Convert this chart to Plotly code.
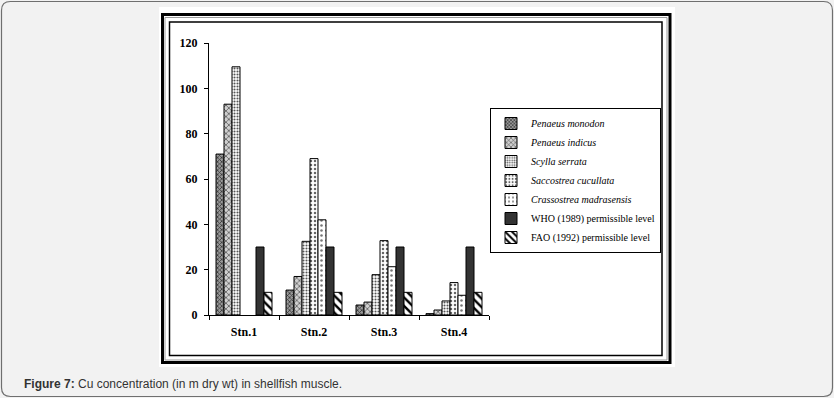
import plotly.graph_objects as go

stations = ["Stn.1", "Stn.2", "Stn.3", "Stn.4"]
penaeus_monodon = [71, 11, 4.4, 0.6]
penaeus_indicus = [93, 17, 5.7, 2.2]
scylla_serrata = [109.5, 32.5, 17.8, 6.2]
saccostrea_cucullata = [None, 69, 32.8, 14.3]
crassostrea_madrasensis = [None, 42, 21.3, 8.7]
who_limit = [30, 30, 30, 30]
fao_limit = [10, 10, 10, 10]
y_ticks = [0, 20, 40, 60, 80, 100, 120]

W, H = 834, 398
L, R, T, B = 209, 489, 43, 315


def px(x):
    return (x - L) / (R - L)


def py(y):
    return (B - y) / (B - T)


series = [
    ("<i>Penaeus monodon</i>", penaeus_monodon, "#9a9a9a", "#333333", "x", 3, 0.45),
    ("<i>Penaeus indicus</i>", penaeus_indicus, "#d0d0d0", "#555555", "x", 4, 0.35),
    ("<i>Scylla serrata</i>", scylla_serrata, "#ffffff", "#555555", ".", 3, 0.4),
    ("<i>Saccostrea cucullata</i>", saccostrea_cucullata, "#ffffff", "#666666", ".", 4, 0.3),
    ("<i>Crassostrea madrasensis</i>", crassostrea_madrasensis, "#ffffff", "#777777", ".", 5, 0.2),
    ("WHO (1989) permissible level", who_limit, "#333333", None, "", 0, 0),
    ("FAO (1992) permissible level", fao_limit, "#ffffff", "#000000", "\\", 6, 0.4),
]

fig = go.Figure()
for name, vals, bg, fg, shape, size, sol in series:
    marker = dict(color=bg, line=dict(color="#000000", width=1))
    if shape:
        marker["pattern"] = dict(shape=shape, fgcolor=fg, bgcolor=bg, size=size,
                                 solidity=sol, fillmode="replace")
    fig.add_trace(go.Bar(x=stations, y=vals, name=name, marker=marker))

shapes = []
# outer rounded frame
x0, x1, y0, y1, r = 1.5, 832.5, 1.5, 396.5, 9
path = (f"M {px(x0 + r)},{py(y0)} L {px(x1 - r)},{py(y0)} "
        f"Q {px(x1)},{py(y0)} {px(x1)},{py(y0 + r)} L {px(x1)},{py(y1 - r)} "
        f"Q {px(x1)},{py(y1)} {px(x1 - r)},{py(y1)} L {px(x0 + r)},{py(y1)} "
        f"Q {px(x0)},{py(y1)} {px(x0)},{py(y1 - r)} L {px(x0)},{py(y0 + r)} "
        f"Q {px(x0)},{py(y0)} {px(x0 + r)},{py(y0)} Z")
shapes.append(dict(type="path", path=path, xref="paper", yref="paper",
                   line=dict(color="#6f6f6f", width=1.2), fillcolor="#f2f2f2", layer="below"))
# white image area
shapes.append(dict(type="rect", xref="paper", yref="paper", x0=px(159), x1=px(675),
                   y0=py(367), y1=py(7), fillcolor="#ffffff", line=dict(width=0), layer="below"))
# thick border
shapes.append(dict(type="rect", xref="paper", yref="paper", x0=px(162.5), x1=px(670),
                   y0=py(362.5), y1=py(14.5), line=dict(color="#000000", width=3), layer="below"))
shapes.append(dict(type="rect", xref="paper", yref="paper", x0=px(165), x1=px(667),
                   y0=py(360), y1=py(17.5), line=dict(color="#9a9a9a", width=1), layer="below"))
# thin inner border
shapes.append(dict(type="rect", xref="paper", yref="paper", x0=px(169.5), x1=px(662),
                   y0=py(355.5), y1=py(22), line=dict(color="#000000", width=1.5), layer="below"))

fig.update_layout(
    width=W, height=H,
    margin=dict(l=L, r=W - R, t=T, b=H - B),
    paper_bgcolor="#f2f2f2",
    plot_bgcolor="rgba(0,0,0,0)",
    barmode="group", bargap=0.2, bargroupgap=0,
    shapes=shapes,
    showlegend=True,
    legend=dict(x=px(490), y=py(108), xanchor="left", yanchor="top",
                bgcolor="#ffffff", bordercolor="#000000", borderwidth=1,
                font=dict(family="Liberation Serif", size=10, color="#000000"),
                tracegroupgap=0, itemwidth=30),
    annotations=[dict(x=px(22), y=py(384), xref="paper", yref="paper",
                      xanchor="left", yanchor="middle", showarrow=False,
                      text="<b>Figure 7:</b> Cu concentration (in m dry wt) in shellfish muscle.",
                      font=dict(family="Liberation Sans", size=12, color="#333333"))],
    xaxis=dict(showline=True, linecolor="#000000", linewidth=1, ticks="outside",
               tickson="boundaries", ticklen=4, tickcolor="#000000", showgrid=False,
               tickfont=dict(family="Liberation Serif", size=12, color="#000000", weight="bold"),
               ticklabelstandoff=6),
    yaxis=dict(range=[0, 120], tickvals=y_ticks, showline=True, linecolor="#000000",
               linewidth=1, ticks="outside", ticklen=4, tickcolor="#000000",
               showgrid=False, zeroline=False,
               tickfont=dict(family="Liberation Serif", size=12, color="#000000", weight="bold"),
               ticklabelstandoff=4),
)

fig.write_html("out.html", config={"displayModeBar": False},
               post_script="document.body.style.margin='0';document.body.style.overflow='hidden';")
